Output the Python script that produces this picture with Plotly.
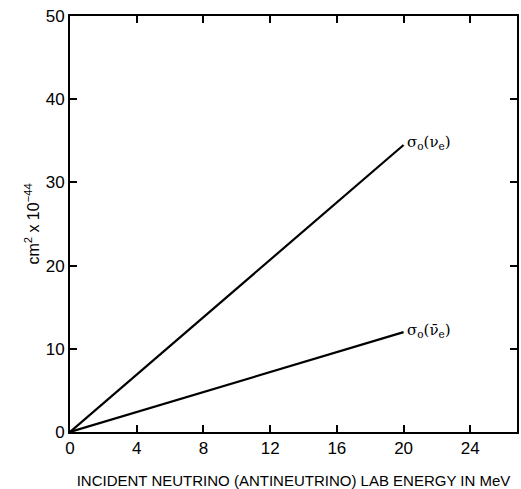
import plotly.graph_objects as go

energy = [0, 20]
sigma_nu = [0, 34.5]
sigma_nubar = [0, 12]
x_ticks = [0, 4, 8, 12, 16, 20, 24]
y_ticks = [0, 10, 20, 30, 40, 50]

fig = go.Figure()
fig.add_trace(go.Scatter(x=energy, y=sigma_nu, mode="lines",
                         line=dict(color="black", width=2.2), showlegend=False))
fig.add_trace(go.Scatter(x=energy, y=sigma_nubar, mode="lines",
                         line=dict(color="black", width=2.2), showlegend=False))

fig.add_annotation(x=energy[-1], y=sigma_nu[-1], text="σ<sub>o</sub>(ν<sub>e</sub>)",
                   showarrow=False, xanchor="left", yanchor="middle", xshift=1, yshift=2,
                   font=dict(family="DejaVu Serif", size=15, color="black"))
fig.add_annotation(x=energy[-1], y=sigma_nubar[-1], text="σ<sub>o</sub>(ν\u0304<sub>e</sub>)",
                   showarrow=False, xanchor="left", yanchor="middle", xshift=1, yshift=2,
                   font=dict(family="DejaVu Serif", size=15, color="black"))

fig.update_xaxes(range=[0, 26.8], tickvals=x_ticks, ticktext=[str(v) for v in x_ticks],
                 ticks="inside", ticklen=7, tickwidth=2, tickcolor="black",
                 showline=True, linecolor="black", linewidth=2, mirror="ticks",
                 showgrid=False, zeroline=False, ticklabeloverflow="allow",
                 automargin=False,
                 tickfont=dict(family="Liberation Sans", size=17, color="black"),
                 title=dict(text="INCIDENT NEUTRINO (ANTINEUTRINO) LAB ENERGY IN MeV",
                            font=dict(family="Liberation Sans", size=15, color="black"),
                            standoff=20))
fig.update_yaxes(range=[0, 50], tickvals=y_ticks, ticktext=[str(v) for v in y_ticks],
                 ticks="inside", ticklen=7, tickwidth=2, tickcolor="black",
                 showline=True, linecolor="black", linewidth=2, mirror="ticks",
                 showgrid=False, zeroline=False, ticklabeloverflow="allow",
                 tickfont=dict(family="Liberation Sans", size=17, color="black"),
                 title=dict(text="cm<sup>2</sup> x 10<sup>−44</sup>",
                            font=dict(family="Liberation Sans", size=16, color="black"),
                            standoff=2))

fig.update_layout(width=521, height=489, margin=dict(l=70, r=2, t=16, b=57),
                  plot_bgcolor="white", paper_bgcolor="white")

fig.write_html("out.html", config={"displayModeBar": False},
               post_script="document.body.style.margin='0';document.body.style.overflow='hidden';")
